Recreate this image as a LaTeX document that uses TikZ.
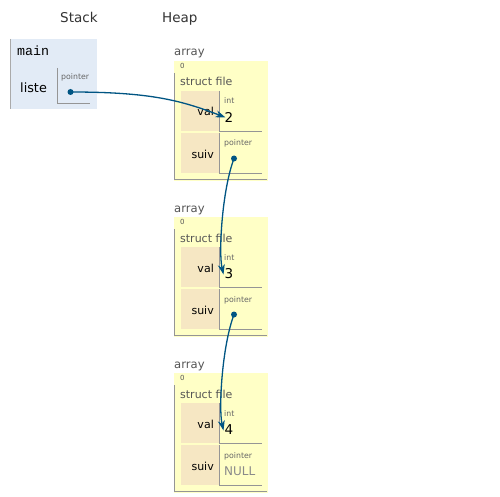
\documentclass[tikz,border=0pt]{standalone}
\usepackage{fontspec}
\setmainfont{DejaVu Sans}
\newfontfamily\monofont{Liberation Mono}
\usetikzlibrary{arrows.meta}
\definecolor{stackbg}{HTML}{E2EBF6}
\definecolor{heapbg}{HTML}{FFFFC6}
\definecolor{keybg}{HTML}{F6E7C3}
\definecolor{rule}{HTML}{959595}
\definecolor{ptrcol}{HTML}{005583}
\definecolor{dimtext}{HTML}{555555}
\definecolor{typetext}{HTML}{666666}
\definecolor{nulltext}{HTML}{8A8A8A}
\newcommand{\fsz}[1]{\fontsize{#1}{#1}\selectfont}
\tikzset{
  lbl/.style={inner sep=0pt, anchor=base west},
  rlbl/.style={inner sep=0pt, anchor=base east},
  hdr/.style={lbl, text=black!80, font=\fsz{13.5}},
  varname/.style={lbl, font=\fsz{12.8}},
  fieldname/.style={rlbl, font=\fsz{11}},
  typelbl/.style={lbl, text=typetext, font=\fsz{7.8}},
  heaplbl/.style={lbl, text=dimtext, font=\fsz{11.6}},
  idxlbl/.style={lbl, text=dimtext, font=\fsz{7}},
  numval/.style={lbl, font=\fsz{13.5}},
  nullval/.style={lbl, text=nulltext, font=\fsz{12}},
  rl/.style={draw=rule, line width=1pt},
  pdot/.style={circle, fill=ptrcol, inner sep=0pt, minimum size=6pt},
  ptr/.style={draw=ptrcol, line width=1.3pt, -{Stealth[length=10pt,width=7pt,inset=3pt]}}
}
\begin{document}
\begin{tikzpicture}[x=1pt,y=-1pt]
\useasboundingbox[fill=white] (0,0) rectangle (500,497);
% headers
\node[hdr] (stackhdr) at (60,22.7) {Stack};
\node[hdr] (heaphdr) at (162,22.7) {Heap};
% stack frame
\fill[stackbg] (10,39) rectangle (97,109);
\draw[rl, draw=rule!80] (10.5,39) -- (10.5,109);
\node[lbl, font=\monofont\fsz{13.3}] (mainlbl) at (17,56) {main};
\node[varname] (liste) at (20,92.3) {liste};
\draw[rl] (57.5,68) -- (57.5,103.5) -- (90,103.5);
\node[typelbl] (sptr) at (61,79.5) {pointer};
\node[pdot] (sdot) at (70.5,92) {};
% heap objects
\foreach \i/\v/\dy in {1/2/0, 2/3/156, 3/4/312} {
  \fill[heapbg] (174,61+\dy) rectangle (268,180.5+\dy);
  \node[heaplbl] (arr\i) at (174,56+\dy) {array};
  \node[idxlbl] (idx\i) at (180,68.5+\dy) {0};
  \draw[rl] (174.5,73+\dy) -- (174.5,179.5+\dy) -- (267,179.5+\dy);
  \node[heaplbl, font=\fsz{11}] (st\i) at (180,86+\dy) {struct file};
  \fill[keybg] (181,91+\dy) rectangle (218.5,131+\dy);
  \fill[keybg] (181,133+\dy) rectangle (218.5,173+\dy);
  \draw[rl] (219.5,91+\dy) -- (219.5,131.5+\dy) -- (262,131.5+\dy);
  \draw[rl] (219.5,133+\dy) -- (219.5,173.5+\dy) -- (262,173.5+\dy);
  \node[fieldname] (val\i) at (214,116+\dy) {val};
  \node[fieldname] (suiv\i) at (214,158.3+\dy) {suiv};
  \node[typelbl] (int\i) at (224,104+\dy) {int};
  \node[numval] (num\i) at (224.5,122.2+\dy) {\v};
  \coordinate (tgt\i) at (225.5,117.5+\dy);
}
\node[typelbl] (nptr1) at (224,146+0) {pointer};
\node[typelbl] (nptr2) at (224,146+156) {pointer};
\node[typelbl] (nptr3) at (224,146+312) {pointer};
\node[nullval] (null3) at (224,475) {NULL};
\node[pdot] (dot1) at (234,158.5) {};
\node[pdot] (dot2) at (234,314.5) {};
% connectors
\draw[ptr] (sdot.center) .. controls +(80,0) and +(-44,-17) .. (tgt1);
\draw[ptr] (dot1.center) .. controls +(-12,32) and +(-5,-22) .. ([xshift=-2pt,yshift=-1pt]tgt2);
\draw[ptr] (dot2.center) .. controls +(-12,32) and +(-5,-22) .. ([xshift=-2pt,yshift=-1pt]tgt3);
\end{tikzpicture}
\end{document}
